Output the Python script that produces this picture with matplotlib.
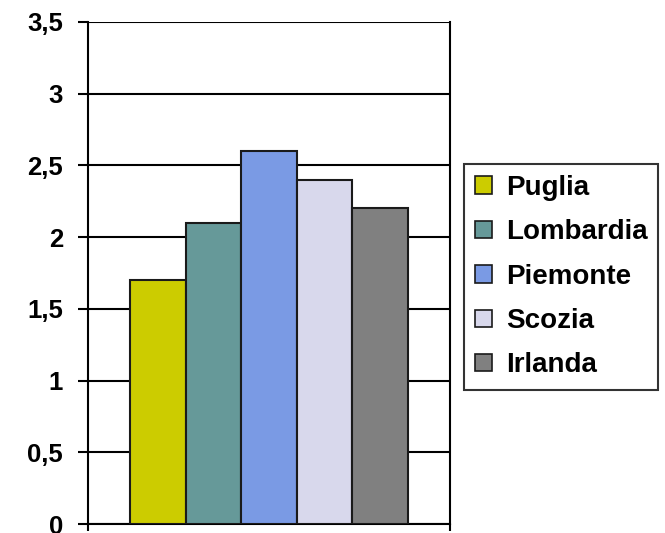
import matplotlib
matplotlib.use("Agg")
import matplotlib.pyplot as plt
from matplotlib.patches import Patch

regions = ["Puglia", "Lombardia", "Piemonte", "Scozia", "Irlanda"]
values = [1.7, 2.1, 2.6, 2.4, 2.2]
colors = ["#CCCC00", "#669999", "#7A9AE4", "#D8D8EC", "#808080"]
y_ticks = [0, 0.5, 1, 1.5, 2, 2.5, 3, 3.5]
y_tick_labels = ["0", "0,5", "1", "1,5", "2", "2,5", "3", "3,5"]

plt.rcParams['font.family'] = ['Liberation Sans', 'DejaVu Sans']

fig = plt.figure(figsize=(6.65, 5.33), dpi=100)
ax = fig.add_axes([88 / 665, 9 / 533, 362 / 665, 502 / 533])

x = list(range(len(regions)))
ax.bar(x, values, width=1.0, color=colors, edgecolor="#1a1a1a", linewidth=1.5, zorder=3)

ax.set_xlim(-1.255, len(regions) - 1 + 1.255)
ax.set_ylim(0, 3.5)
ax.set_yticks(y_ticks)
ax.set_yticklabels(y_tick_labels, fontsize=18.5, fontweight="bold")
ax.set_xticks([-1.255, len(regions) - 1 + 1.255])
ax.set_xticklabels([])
ax.tick_params(axis="y", direction="out", length=7.5, width=1.5, pad=10.5)
ax.tick_params(axis="x", direction="out", length=5, width=1.5)

ax.yaxis.grid(True, color="black", linewidth=1.5, zorder=0)
ax.set_axisbelow(True)
for side in ["left", "right", "bottom"]:
    ax.spines[side].set_linewidth(1.5)
    ax.spines[side].set_color("black")
ax.spines["top"].set_visible(False)

handles = [Patch(facecolor=c, edgecolor="#1a1a1a", linewidth=1.2) for c in colors]
leg = fig.legend(handles, regions, loc="upper left",
                 bbox_to_anchor=(464 / 665, 1 - 164 / 533),
                 frameon=True, fancybox=False, edgecolor="black",
                 prop={"size": 20, "weight": "bold"},
                 handlelength=0.6, handleheight=0.6, handletextpad=0.5,
                 labelspacing=0.66, borderpad=0.4, borderaxespad=0)
leg.get_frame().set_linewidth(1.5)

fig.savefig("out.png", dpi=100, facecolor="white")
